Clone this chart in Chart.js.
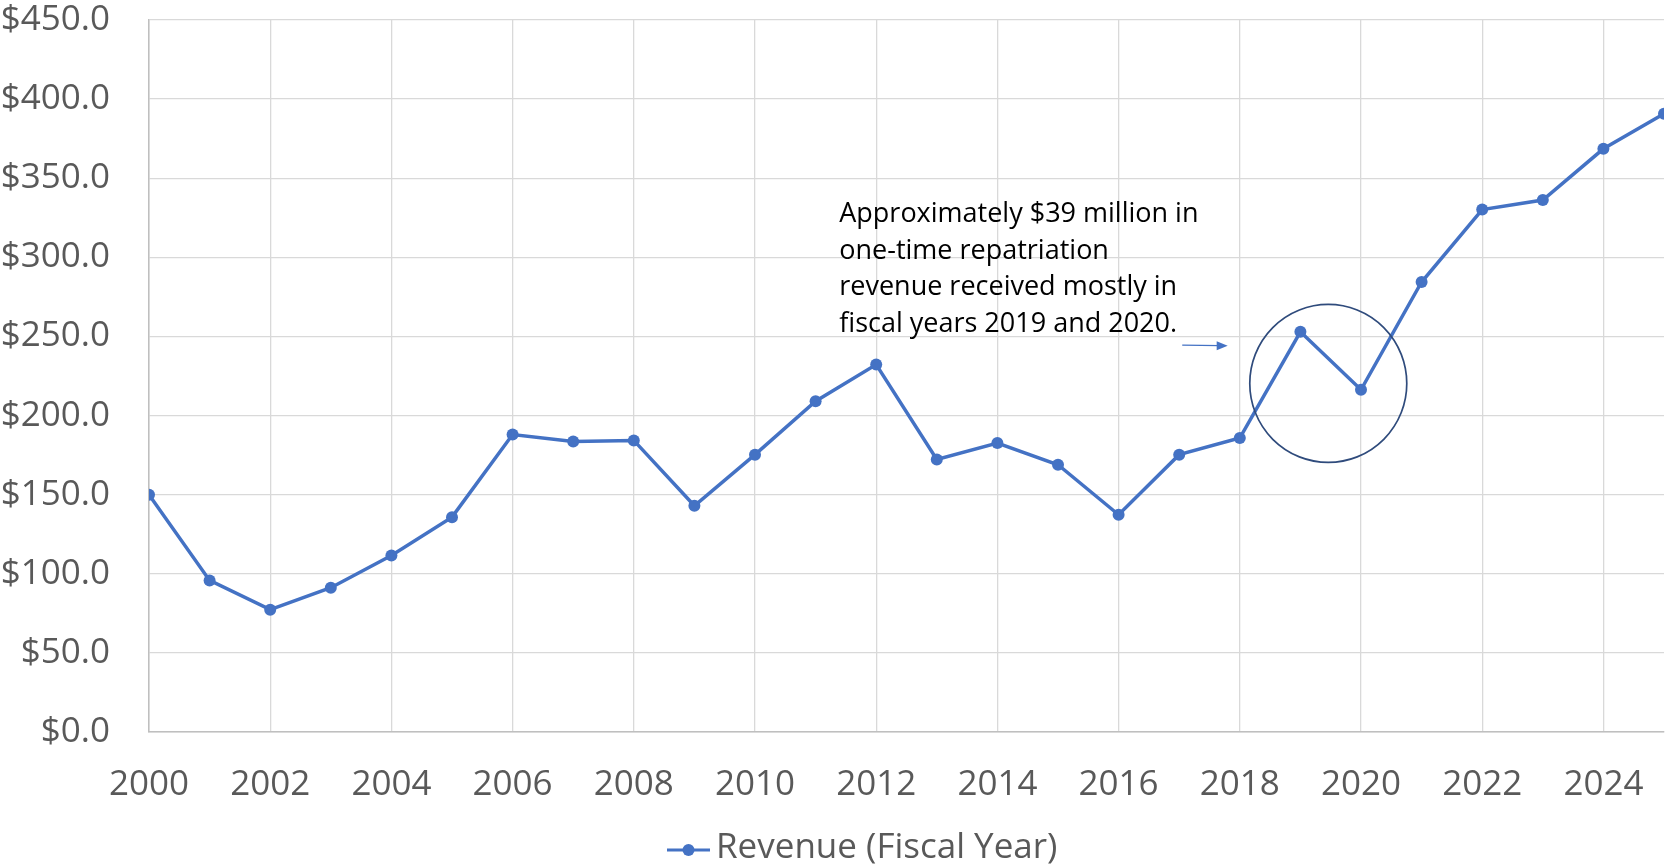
<!DOCTYPE html>
<html>
<head>
<meta charset="utf-8">
<script src="https://cdn.jsdelivr.net/npm/chart.js@4.4.1/dist/chart.umd.min.js"></script>
<style>
  html, body { margin: 0; padding: 0; background: #fff; }
  #wrap { position: relative; width: 1665px; height: 867px; }
</style>
</head>
<body>
<div id="wrap"><canvas id="revChart"></canvas></div>
<script>
// Data (juta USD)
const years = [2000, 2001, 2002, 2003, 2004, 2005, 2006, 2007, 2008, 2009, 2010, 2011, 2012,
               2013, 2014, 2015, 2016, 2017, 2018, 2019, 2020, 2021, 2022, 2023, 2024, 2025];
const revenue = [150.0, 95.8, 77.3, 91.2, 111.6, 135.8, 188.0, 183.6, 184.3, 143.0, 175.3, 209.1, 232.2,
                 172.2, 182.6, 168.9, 137.3, 175.3, 185.8, 252.9, 216.3, 284.4, 330.2, 336.2, 368.6, 390.8];
const seriesLabel = 'Revenue (Fiscal Year)';
const noteLines = ['Approximately $39 million in', 'one-time repatriation',
                   'revenue received mostly in', 'fiscal years 2019 and 2020.'];

const blue = '#4472C4';
const FONT = '"Open Sans", sans-serif';

// Anotasi: teks, anak panah, bulatan + legend sendiri
const notePlugin = {
  id: 'notePlugin',
  afterDatasetsDraw(chart) {
    const { ctx, scales: { x, y } } = chart;
    ctx.save();

    // teks nota
    ctx.fillStyle = '#000';
    ctx.font = '27px ' + FONT;
    ctx.textBaseline = 'alphabetic';
    ctx.textAlign = 'left';
    const tx = x.getPixelForValue(2011.39);
    const ty = y.getPixelForValue(322.5);
    noteLines.forEach((t, i) => ctx.fillText(t, tx, ty + i * 36.8));

    // anak panah
    const ax1 = x.getPixelForValue(2017.05), ax2 = x.getPixelForValue(2017.8);
    const ay = y.getPixelForValue(244.5);
    ctx.strokeStyle = blue; ctx.fillStyle = blue; ctx.lineWidth = 1.2;
    ctx.beginPath(); ctx.moveTo(ax1, ay); ctx.lineTo(ax2 - 8, ay + 0.5); ctx.stroke();
    ctx.beginPath(); ctx.moveTo(ax2, ay + 0.5); ctx.lineTo(ax2 - 11, ay - 4); ctx.lineTo(ax2 - 11, ay + 5); ctx.closePath(); ctx.fill();

    // bulatan sekitar 2019-2020
    const cx = x.getPixelForValue(2019.46), cy = y.getPixelForValue(220.3);
    ctx.strokeStyle = '#2F4B7C'; ctx.lineWidth = 1.7;
    ctx.beginPath(); ctx.ellipse(cx, cy, 78.5, 79, 0, 0, Math.PI * 2); ctx.stroke();

    // legend
    const lx = 667, ly = 850;
    ctx.strokeStyle = blue; ctx.lineWidth = 3;
    ctx.beginPath(); ctx.moveTo(lx, ly); ctx.lineTo(lx + 43, ly); ctx.stroke();
    ctx.fillStyle = blue;
    ctx.beginPath(); ctx.arc(lx + 21.5, ly, 6, 0, Math.PI * 2); ctx.fill();
    ctx.fillStyle = '#595959';
    ctx.font = '35px ' + FONT;
    ctx.textBaseline = 'middle';
    ctx.fillText(seriesLabel, lx + 49, ly - 2);
    ctx.restore();
  }
};

new Chart(document.getElementById('revChart'), {
  type: 'line',
  data: {
    datasets: [{
      label: seriesLabel,
      data: years.map((yr, i) => ({ x: yr, y: revenue[i] })),
      borderColor: blue,
      backgroundColor: blue,
      borderWidth: 3.5,
      pointRadius: 6,
      pointHoverRadius: 6,
      pointBackgroundColor: blue,
      pointBorderWidth: 0,
      tension: 0
    }]
  },
  options: {
    responsive: true,
    maintainAspectRatio: false,
    animation: false,
    layout: { autoPadding: false, padding: { top: 20, right: 1, bottom: 0, left: 0 } },
    plugins: {
      legend: { display: false },
      tooltip: { enabled: false }
    },
    scales: {
      x: {
        type: 'linear',
        min: 2000,
        max: 2025,
        ticks: {
          stepSize: 2,
          includeBounds: false,
          padding: 32,
          color: '#595959',
          font: { family: FONT, size: 35 },
          callback: v => String(v)
        },
        grid: { color: '#D9D9D9', lineWidth: 1.3, drawTicks: false },
        border: { color: '#BFBFBF', width: 1.5 },
        afterFit: s => { s.height = 135; s.paddingLeft = 0; s.paddingRight = 0; }
      },
      y: {
        min: 0,
        max: 450,
        ticks: {
          stepSize: 50,
          padding: 39,
          color: '#595959',
          font: { family: FONT, size: 35 },
          callback: v => '$' + v.toFixed(1)
        },
        grid: { color: '#D9D9D9', lineWidth: 1.3, drawTicks: false },
        border: { color: '#BFBFBF', width: 1.5 },
        afterFit: s => { s.width = 149; s.paddingTop = 0; s.paddingBottom = 0; }
      }
    }
  },
  plugins: [notePlugin]
});
</script>
</body>
</html>
